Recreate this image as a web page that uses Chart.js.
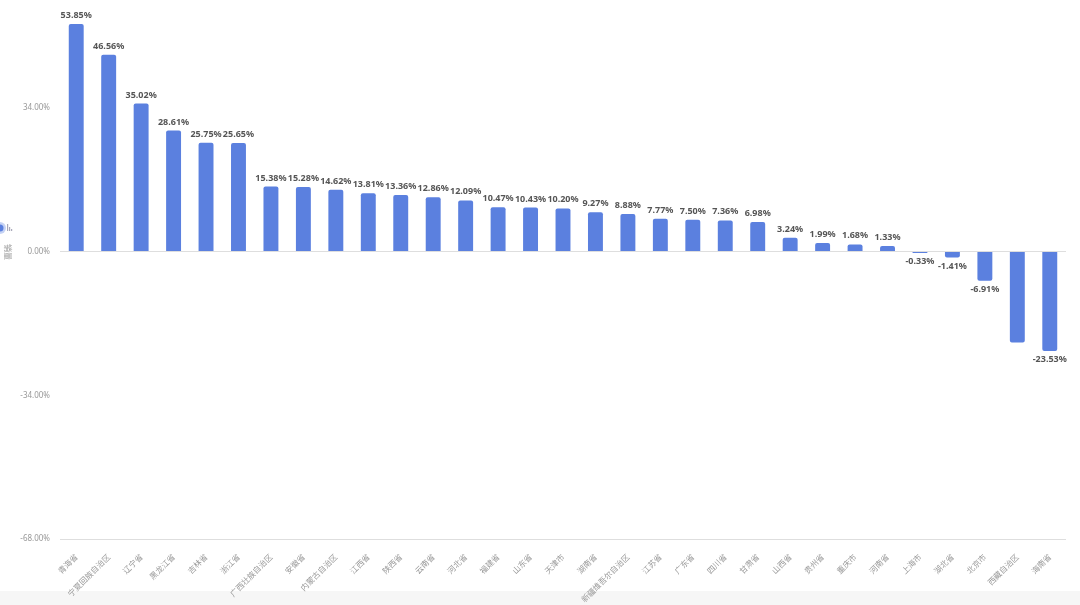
<!DOCTYPE html>
<html>
<head>
<meta charset="utf-8">
<script src="https://cdn.jsdelivr.net/npm/chart.js@4"></script>
<style>
  html, body { margin: 0; padding: 0; background: #fff; }
</style>
</head>
<body>
<canvas id="sales" width="1080" height="605"></canvas>
<script>
const provinces = ['青海省', '宁夏回族自治区', '辽宁省', '黑龙江省', '吉林省', '浙江省', '广西壮族自治区', '安徽省',
    '内蒙古自治区', '江西省', '陕西省', '云南省', '河北省', '福建省', '山东省', '天津市', '湖南省',
    '新疆维吾尔自治区', '江苏省', '广东省', '四川省', '甘肃省', '山西省', '贵州省', '重庆市', '河南省',
    '上海市', '湖北省', '北京市', '西藏自治区', '海南省'];
const growth = [53.85, 46.56, 35.02, 28.61, 25.75, 25.65, 15.38, 15.28, 14.62, 13.81, 13.36, 12.86, 12.09,
    10.47, 10.43, 10.20, 9.27, 8.88, 7.77, 7.50, 7.36, 6.98, 3.24, 1.99, 1.68, 1.33, -0.33, -1.41, -6.91,
    -21.5, -23.53];
const hiddenLabels = ['西藏自治区'];
const yTicks = [-68, -34, 0, 34];

// value labels above / below each bar
const valueLabels = {
    id: 'valueLabels',
    afterDatasetsDraw(chart) {
        const ctx = chart.ctx;
        const meta = chart.getDatasetMeta(0);
        ctx.save();
        ctx.font = 'bold 9px "Noto Sans", sans-serif';
        ctx.fillStyle = '#555';
        ctx.textAlign = 'center';
        meta.data.forEach((bar, i) => {
            if (hiddenLabels.includes(provinces[i])) return;
            const v = growth[i];
            const txt = v.toFixed(2) + '%';
            if (v >= 0) {
                ctx.textBaseline = 'bottom';
                ctx.fillText(txt, bar.x, bar.y - 4);
            } else {
                ctx.textBaseline = 'top';
                ctx.fillText(txt, bar.x, bar.y + 4);
            }
        });
        ctx.restore();
    }
};

// grey footer band, axis icon and rotated y title
const decor = {
    id: 'decor',
    beforeDraw(chart) {
        const ctx = chart.ctx;
        ctx.save();
        ctx.fillStyle = '#f6f6f6';
        ctx.fillRect(0, 591, chart.width, chart.height - 591);
        ctx.restore();
    },
    afterDraw(chart) {
        const ctx = chart.ctx;
        ctx.save();
        ctx.fillStyle = 'rgba(91,128,223,0.35)';
        ctx.beginPath();
        ctx.arc(0, 228, 6, 0, Math.PI * 2);
        ctx.fill();
        ctx.fillStyle = '#5b80df';
        ctx.beginPath();
        ctx.arc(0, 228, 3.5, 0, Math.PI * 2);
        ctx.fill();
        ctx.fillStyle = '#aab';
        ctx.fillRect(7, 224, 1.2, 7);
        ctx.fillRect(9, 227, 1.2, 4);
        ctx.fillRect(11, 229, 1.2, 2);
        ctx.translate(8, 252);
        ctx.rotate(Math.PI / 2);
        ctx.font = '8px "Noto Sans CJK SC", sans-serif';
        ctx.fillStyle = '#999';
        ctx.textAlign = 'center';
        ctx.textBaseline = 'middle';
        ctx.fillText('销量', 0, 0);
        ctx.restore();
    }
};

new Chart(document.getElementById('sales'), {
    type: 'bar',
    data: {
        labels: provinces,
        datasets: [{
            label: '销量',
            data: growth,
            backgroundColor: '#5b80df',
            borderRadius: 2,
            borderSkipped: 'start',
            barPercentage: 0.46,
            categoryPercentage: 1
        }]
    },
    options: {
        responsive: false,
        animation: false,
        layout: { padding: { top: 6, right: 14, left: 0, bottom: 0 } },
        plugins: {
            legend: { display: false },
            tooltip: { enabled: false }
        },
        scales: {
            x: {
                grid: { display: false },
                border: { display: false },
                ticks: {
                    color: '#999',
                    font: { size: 8, family: '"Noto Sans CJK SC", sans-serif' },
                    maxRotation: 45,
                    minRotation: 45,
                    autoSkip: false,
                    padding: 5
                },
                afterFit(scale) { scale.height = 66; }
            },
            y: {
                min: -68,
                max: 56,
                afterBuildTicks(scale) {
                    scale.ticks = yTicks.map(v => ({ value: v }));
                },
                grid: {
                    drawTicks: false,
                    color: c => (c.tick && (c.tick.value === 0 || c.tick.value === -68)) ? '#dedede' : 'rgba(0,0,0,0)'
                },
                border: { display: false },
                ticks: {
                    color: '#999',
                    font: { size: 8, family: '"Noto Sans", sans-serif' },
                    padding: 10,
                    callback: v => v.toFixed(2) + '%'
                },
                afterFit(scale) { scale.width = 60; }
            }
        }
    },
    plugins: [valueLabels, decor]
});
</script>
</body>
</html>
